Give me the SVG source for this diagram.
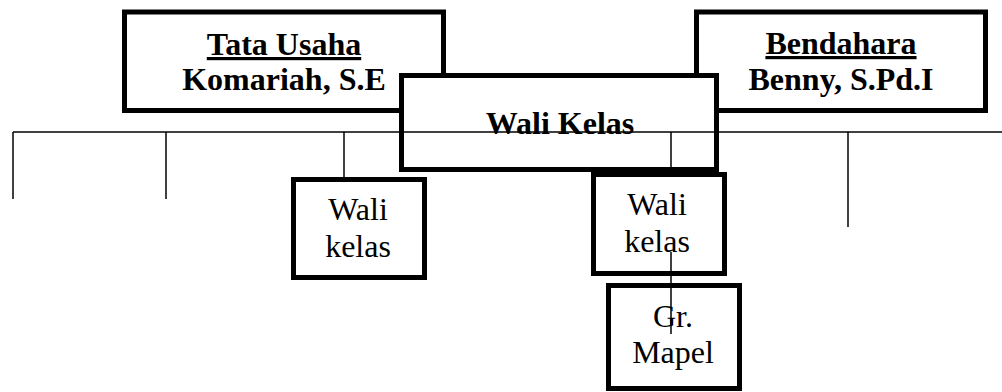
<svg xmlns="http://www.w3.org/2000/svg" width="1002" height="392" viewBox="0 0 1002 392">
<style>
.box{fill:#fff;stroke:#000;stroke-width:5}
.b{font-family:"Liberation Serif","Times New Roman",serif;font-weight:bold;font-size:32px;text-anchor:middle;fill:#000}
.n{font-family:"Liberation Serif","Times New Roman",serif;font-size:32px;text-anchor:middle;fill:#000}
.u{text-decoration:underline}
.c{stroke:#000;stroke-width:1.5;fill:none}
</style>
<rect width="1002" height="392" fill="#fff"/>
<g id="tata-usaha">
<rect class="box" x="124.5" y="12" width="319" height="98.5"/>
<text class="b u" x="284" y="55">Tata Usaha</text>
<text class="b" x="284" y="90">Komariah, S.E</text>
</g>
<g id="bendahara">
<rect class="box" x="696.5" y="12" width="289" height="98.5"/>
<text class="b u" x="841" y="54">Bendahara</text>
<text class="b" x="841" y="90">Benny, S.Pd.I</text>
</g>
<g id="wali-kelas-main">
<rect class="box" x="401.5" y="75.5" width="315" height="94"/>
<text class="b" x="560" y="134">Wali Kelas</text>
</g>
<g id="wali-kelas-1">
<rect class="box" x="293.5" y="179.5" width="131" height="98"/>
<text class="n" x="358" y="220">Wali</text>
<text class="n" x="358" y="257">kelas</text>
</g>
<g id="wali-kelas-2">
<rect class="box" x="593.5" y="174.5" width="131" height="99"/>
<text class="n" x="657" y="215">Wali</text>
<text class="n" x="657" y="252">kelas</text>
</g>
<g id="gr-mapel">
<rect class="box" x="608.5" y="285.5" width="131" height="103"/>
<text class="n" x="673" y="327">Gr.</text>
<text class="n" x="673" y="363">Mapel</text>
</g>
<g id="connectors">
<line class="c" x1="13" y1="132" x2="1002" y2="132"/>
<line class="c" x1="13" y1="132" x2="13" y2="199"/>
<line class="c" x1="166" y1="132" x2="166" y2="199"/>
<line class="c" x1="344" y1="132" x2="344" y2="178"/>
<line class="c" x1="671" y1="132" x2="671" y2="173"/>
<line class="c" x1="848" y1="132" x2="848" y2="227"/>
<line class="c" x1="671" y1="252" x2="671" y2="334"/>
</g>
</svg>
